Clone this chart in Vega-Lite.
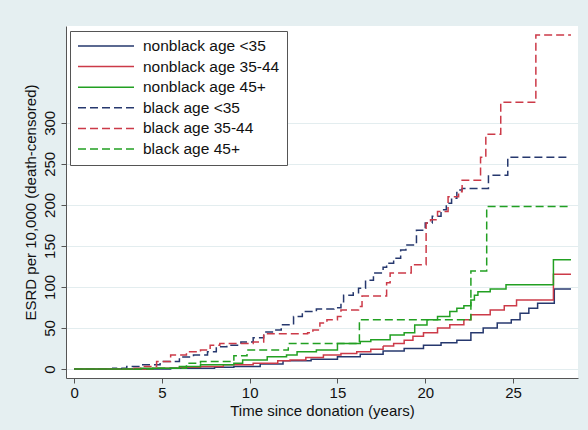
{
  "$schema": "https://vega.github.io/schema/vega-lite/v6.json",
  "width": 512,
  "height": 352,
  "autosize": "none",
  "padding": {"left": 66, "top": 26, "right": 10, "bottom": 52},
  "background": "#e5eff1",
  "datasets": {
    "esrd": [
      {"group": "nonblack age <35", "t": 0, "v": 0},
      {"group": "nonblack age <35", "t": 5.5, "v": 1},
      {"group": "nonblack age <35", "t": 8, "v": 2},
      {"group": "nonblack age <35", "t": 9.1, "v": 3},
      {"group": "nonblack age <35", "t": 10.6, "v": 6},
      {"group": "nonblack age <35", "t": 11.9, "v": 10},
      {"group": "nonblack age <35", "t": 13.5, "v": 12},
      {"group": "nonblack age <35", "t": 15.0, "v": 15},
      {"group": "nonblack age <35", "t": 16.3, "v": 18},
      {"group": "nonblack age <35", "t": 17.6, "v": 22},
      {"group": "nonblack age <35", "t": 18.8, "v": 25},
      {"group": "nonblack age <35", "t": 19.9, "v": 29},
      {"group": "nonblack age <35", "t": 20.9, "v": 32},
      {"group": "nonblack age <35", "t": 21.8, "v": 35},
      {"group": "nonblack age <35", "t": 22.6, "v": 44},
      {"group": "nonblack age <35", "t": 23.3, "v": 50},
      {"group": "nonblack age <35", "t": 24.1, "v": 56},
      {"group": "nonblack age <35", "t": 24.9, "v": 60},
      {"group": "nonblack age <35", "t": 25.4, "v": 68},
      {"group": "nonblack age <35", "t": 25.9, "v": 74},
      {"group": "nonblack age <35", "t": 26.4, "v": 80},
      {"group": "nonblack age <35", "t": 27.35, "v": 97.5},
      {"group": "nonblack age <35", "t": 28.3, "v": 97.5},

      {"group": "nonblack age 35-44", "t": 0, "v": 0},
      {"group": "nonblack age 35-44", "t": 4.5, "v": 1},
      {"group": "nonblack age 35-44", "t": 6, "v": 2},
      {"group": "nonblack age 35-44", "t": 7.2, "v": 3},
      {"group": "nonblack age 35-44", "t": 8.5, "v": 5},
      {"group": "nonblack age 35-44", "t": 10.2, "v": 7},
      {"group": "nonblack age 35-44", "t": 11.6, "v": 10},
      {"group": "nonblack age 35-44", "t": 12.3, "v": 11},
      {"group": "nonblack age 35-44", "t": 13.2, "v": 14},
      {"group": "nonblack age 35-44", "t": 14.2, "v": 17},
      {"group": "nonblack age 35-44", "t": 15.2, "v": 19},
      {"group": "nonblack age 35-44", "t": 16.1, "v": 21},
      {"group": "nonblack age 35-44", "t": 16.9, "v": 24},
      {"group": "nonblack age 35-44", "t": 17.6, "v": 28},
      {"group": "nonblack age 35-44", "t": 18.2, "v": 31},
      {"group": "nonblack age 35-44", "t": 18.8, "v": 35},
      {"group": "nonblack age 35-44", "t": 19.3, "v": 40},
      {"group": "nonblack age 35-44", "t": 19.9, "v": 44},
      {"group": "nonblack age 35-44", "t": 20.7, "v": 50},
      {"group": "nonblack age 35-44", "t": 21.4, "v": 54},
      {"group": "nonblack age 35-44", "t": 22.2, "v": 60},
      {"group": "nonblack age 35-44", "t": 22.6, "v": 66},
      {"group": "nonblack age 35-44", "t": 23.7, "v": 72},
      {"group": "nonblack age 35-44", "t": 24.5, "v": 77},
      {"group": "nonblack age 35-44", "t": 25.2, "v": 84},
      {"group": "nonblack age 35-44", "t": 27.3, "v": 115.5},
      {"group": "nonblack age 35-44", "t": 28.3, "v": 115.5},

      {"group": "nonblack age 45+", "t": 0, "v": 0},
      {"group": "nonblack age 45+", "t": 3.8, "v": 1},
      {"group": "nonblack age 45+", "t": 6.0, "v": 3},
      {"group": "nonblack age 45+", "t": 7.2, "v": 5},
      {"group": "nonblack age 45+", "t": 9.1, "v": 7},
      {"group": "nonblack age 45+", "t": 9.6, "v": 11},
      {"group": "nonblack age 45+", "t": 11.0, "v": 15},
      {"group": "nonblack age 45+", "t": 12.1, "v": 17},
      {"group": "nonblack age 45+", "t": 12.7, "v": 21},
      {"group": "nonblack age 45+", "t": 13.8, "v": 23},
      {"group": "nonblack age 45+", "t": 15.0, "v": 31},
      {"group": "nonblack age 45+", "t": 16.3, "v": 33.5},
      {"group": "nonblack age 45+", "t": 16.9, "v": 35.5},
      {"group": "nonblack age 45+", "t": 18.0, "v": 41.5},
      {"group": "nonblack age 45+", "t": 18.8, "v": 44},
      {"group": "nonblack age 45+", "t": 19.4, "v": 53.5},
      {"group": "nonblack age 45+", "t": 20.1, "v": 60},
      {"group": "nonblack age 45+", "t": 20.7, "v": 64},
      {"group": "nonblack age 45+", "t": 21.4, "v": 70},
      {"group": "nonblack age 45+", "t": 21.8, "v": 74},
      {"group": "nonblack age 45+", "t": 22.2, "v": 77},
      {"group": "nonblack age 45+", "t": 22.6, "v": 84},
      {"group": "nonblack age 45+", "t": 22.8, "v": 90},
      {"group": "nonblack age 45+", "t": 23.0, "v": 94},
      {"group": "nonblack age 45+", "t": 23.7, "v": 97.5},
      {"group": "nonblack age 45+", "t": 24.6, "v": 102.5},
      {"group": "nonblack age 45+", "t": 27.3, "v": 133},
      {"group": "nonblack age 45+", "t": 28.3, "v": 133},

      {"group": "black age <35", "t": 0, "v": 0},
      {"group": "black age <35", "t": 2.2, "v": 1},
      {"group": "black age <35", "t": 3.0, "v": 3},
      {"group": "black age <35", "t": 3.8, "v": 5},
      {"group": "black age <35", "t": 4.9, "v": 9},
      {"group": "black age <35", "t": 6.0, "v": 14.5},
      {"group": "black age <35", "t": 6.8, "v": 17},
      {"group": "black age <35", "t": 7.6, "v": 21},
      {"group": "black age <35", "t": 8.1, "v": 27},
      {"group": "black age <35", "t": 8.7, "v": 29},
      {"group": "black age <35", "t": 9.5, "v": 33},
      {"group": "black age <35", "t": 10.2, "v": 38},
      {"group": "black age <35", "t": 10.8, "v": 45},
      {"group": "black age <35", "t": 11.35, "v": 47.5},
      {"group": "black age <35", "t": 11.8, "v": 54},
      {"group": "black age <35", "t": 12.5, "v": 64},
      {"group": "black age <35", "t": 13.0, "v": 70},
      {"group": "black age <35", "t": 13.8, "v": 73},
      {"group": "black age <35", "t": 14.8, "v": 74.5},
      {"group": "black age <35", "t": 15.2, "v": 82},
      {"group": "black age <35", "t": 15.35, "v": 90},
      {"group": "black age <35", "t": 15.9, "v": 93},
      {"group": "black age <35", "t": 16.2, "v": 98.5},
      {"group": "black age <35", "t": 16.6, "v": 108},
      {"group": "black age <35", "t": 17.05, "v": 117},
      {"group": "black age <35", "t": 17.6, "v": 124},
      {"group": "black age <35", "t": 17.8, "v": 129},
      {"group": "black age <35", "t": 18.2, "v": 135},
      {"group": "black age <35", "t": 18.6, "v": 145},
      {"group": "black age <35", "t": 18.9, "v": 151},
      {"group": "black age <35", "t": 19.5, "v": 169},
      {"group": "black age <35", "t": 20.0, "v": 178},
      {"group": "black age <35", "t": 20.4, "v": 186},
      {"group": "black age <35", "t": 20.9, "v": 194},
      {"group": "black age <35", "t": 21.2, "v": 202},
      {"group": "black age <35", "t": 21.5, "v": 208},
      {"group": "black age <35", "t": 21.8, "v": 218},
      {"group": "black age <35", "t": 22.1, "v": 220},
      {"group": "black age <35", "t": 23.6, "v": 236},
      {"group": "black age <35", "t": 24.7, "v": 258},
      {"group": "black age <35", "t": 28.2, "v": 258},

      {"group": "black age 35-44", "t": 0, "v": 0},
      {"group": "black age 35-44", "t": 3.2, "v": 1},
      {"group": "black age 35-44", "t": 3.8, "v": 3},
      {"group": "black age 35-44", "t": 4.7, "v": 9},
      {"group": "black age 35-44", "t": 5.5, "v": 17},
      {"group": "black age 35-44", "t": 6.4, "v": 21},
      {"group": "black age 35-44", "t": 7.2, "v": 23},
      {"group": "black age 35-44", "t": 7.75, "v": 29},
      {"group": "black age 35-44", "t": 8.3, "v": 31},
      {"group": "black age 35-44", "t": 10.2, "v": 33},
      {"group": "black age 35-44", "t": 10.8, "v": 43},
      {"group": "black age 35-44", "t": 13.3, "v": 44},
      {"group": "black age 35-44", "t": 13.6, "v": 47.5},
      {"group": "black age 35-44", "t": 14.0, "v": 56},
      {"group": "black age 35-44", "t": 14.4, "v": 60},
      {"group": "black age 35-44", "t": 15.0, "v": 64},
      {"group": "black age 35-44", "t": 15.2, "v": 72},
      {"group": "black age 35-44", "t": 16.2, "v": 76},
      {"group": "black age 35-44", "t": 16.4, "v": 89},
      {"group": "black age 35-44", "t": 17.8, "v": 105},
      {"group": "black age 35-44", "t": 18.0, "v": 117},
      {"group": "black age 35-44", "t": 19.2, "v": 127},
      {"group": "black age 35-44", "t": 20.05, "v": 178},
      {"group": "black age 35-44", "t": 20.3, "v": 182},
      {"group": "black age 35-44", "t": 20.7, "v": 192},
      {"group": "black age 35-44", "t": 21.3, "v": 210},
      {"group": "black age 35-44", "t": 21.9, "v": 216},
      {"group": "black age 35-44", "t": 22.1, "v": 230},
      {"group": "black age 35-44", "t": 23.15, "v": 258},
      {"group": "black age 35-44", "t": 23.45, "v": 286},
      {"group": "black age 35-44", "t": 24.3, "v": 325},
      {"group": "black age 35-44", "t": 26.3, "v": 407},
      {"group": "black age 35-44", "t": 28.3, "v": 407},

      {"group": "black age 45+", "t": 0, "v": 0},
      {"group": "black age 45+", "t": 4.5, "v": 1},
      {"group": "black age 45+", "t": 6.4, "v": 7},
      {"group": "black age 45+", "t": 7.2, "v": 9},
      {"group": "black age 45+", "t": 9.1, "v": 16},
      {"group": "black age 45+", "t": 9.85, "v": 23},
      {"group": "black age 45+", "t": 12.2, "v": 31},
      {"group": "black age 45+", "t": 16.25, "v": 60},
      {"group": "black age 45+", "t": 22.6, "v": 119.5},
      {"group": "black age 45+", "t": 23.5, "v": 198},
      {"group": "black age 45+", "t": 28.3, "v": 198}
    ]
  },
  "data": {"name": "esrd"},
  "mark": {"type": "line", "interpolate": "step-after", "strokeWidth": 1.5, "clip": true},
  "encoding": {
    "x": {
      "field": "t",
      "type": "quantitative",
      "title": "Time since donation (years)",
      "scale": {"domain": [-0.46, 28.7], "nice": false, "zero": false},
      "axis": {"values": [0, 5, 10, 15, 20, 25], "grid": false, "labelPadding": 2, "titlePadding": 3}
    },
    "y": {
      "field": "v",
      "type": "quantitative",
      "title": "ESRD per 10,000 (death-censored)",
      "scale": {"domain": [-11, 418], "nice": false, "zero": false},
      "axis": {"values": [0, 50, 100, 150, 200, 250, 300], "grid": true, "labelAngle": 270, "labelAlign": "center", "labelBaseline": "bottom", "labelPadding": 4, "titlePadding": 4}
    },
    "color": {
      "field": "group",
      "type": "nominal",
      "scale": {
        "domain": ["nonblack age <35", "nonblack age 35-44", "nonblack age 45+", "black age <35", "black age 35-44", "black age 45+"],
        "range": ["#26386e", "#cc3a48", "#22a022", "#26386e", "#cc3a48", "#22a022"]
      },
      "legend": {
        "title": null,
        "orient": "none",
        "legendX": 4,
        "legendY": 5,
        "symbolType": "M-4,0H4",
        "symbolSize": 196,
        "symbolOffset": 21,
        "symbolStrokeWidth": 1.5,
        "labelFontSize": 15.5,
        "labelOffset": 29,
        "rowPadding": 3.6,
        "padding": 7,
        "strokeColor": "#555555",
        "fillColor": "white"
      }
    },
    "strokeDash": {
      "field": "group",
      "type": "nominal",
      "scale": {
        "domain": ["nonblack age <35", "nonblack age 35-44", "nonblack age 45+", "black age <35", "black age 35-44", "black age 45+"],
        "range": [[1, 0], [1, 0], [1, 0], [8, 4], [8, 4], [8, 4]]
      },
      "legend": null
    }
  },
  "config": {
    "font": "Liberation Sans",
    "view": {"stroke": null, "fill": "white"},
    "axis": {
      "labelFontSize": 15,
      "titleFontSize": 15,
      "titleFontWeight": "normal",
      "labelColor": "#111111",
      "titleColor": "#111111",
      "domainColor": "#555555",
      "tickColor": "#555555",
      "tickSize": 5,
      "gridColor": "#e3edef",
      "gridWidth": 1.2
    },
    "legend": {"labelColor": "#111111", "labelFont": "Liberation Sans"}
  }
}
